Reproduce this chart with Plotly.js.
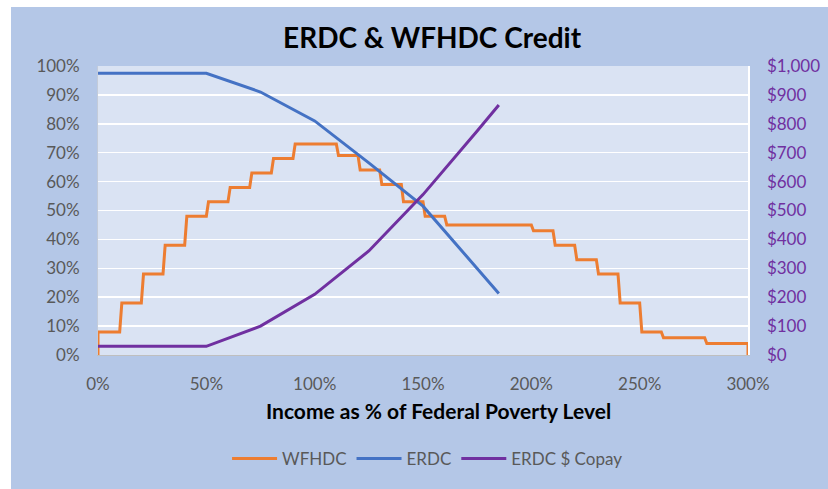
<!DOCTYPE html>
<html>
<head>
<meta charset="utf-8">
<script src="https://cdn.plot.ly/plotly-3.0.1.min.js"></script>
<style>
  html, body { margin: 0; padding: 0; background: #ffffff; }
  #chart { position: absolute; left: 11px; top: 7px; width: 817px; height: 482px; }
</style>
</head>
<body>
<div id="chart"></div>
<script>
// Income as % of Federal Poverty Level
const wfhdcX = [0,0,10,11,20,21,30,31,40,41,50,51,60,61,70,71,80,81,90,91,110,111,120,121,130,131,140,141,150,151,160,161,200,201,210,211,220,221,230,231,240,241,250,251,260,261,280,281,300,300];
// WFHDC credit (%)
const wfhdcY = [0,8,8,18,18,28,28,38,38,48,48,53,53,58,58,63,63,68,68,73,73,69,69,64,64,59,59,53,53,48,48,45,45,43,43,38,38,33,33,28,28,18,18,8,8,6,6,4,4,0];

const erdcX = [0,50,75,100,125,150,185];
const erdcY = [97.5,97.5,91,81,66.5,51.5,21.3];

const copayX = [0,50,75,100,125,150,175,185];
const copayY = [30,30,100,210,360,555,775,865];

const leftTicks = [0,10,20,30,40,50,60,70,80,90,100];
const leftTickText = ['0%','10%','20%','30%','40%','50%','60%','70%','80%','90%','100%'];
const rightTicks = [0,100,200,300,400,500,600,700,800,900,1000];
const rightTickText = ['$0','$100','$200','$300','$400','$500','$600','$700','$800','$900','$1,000'];
const xTicks = [0,50,100,150,200,250,300];
const xTickText = ['0%','50%','100%','150%','200%','250%','300%'];

const FONT = 'Lato, "Open Sans", sans-serif';
const GREY = '#595959';

const traces = [
  { x: wfhdcX, y: wfhdcY, name: 'WFHDC', type: 'scatter', mode: 'lines',
    line: { color: '#ed7d31', width: 3 }, yaxis: 'y' },
  { x: erdcX, y: erdcY, name: 'ERDC', type: 'scatter', mode: 'lines',
    line: { color: '#4472c4', width: 3 }, yaxis: 'y' },
  { x: copayX, y: copayY, name: 'ERDC $ Copay', type: 'scatter', mode: 'lines',
    line: { color: '#7030a0', width: 3 }, yaxis: 'y2' }
];

const layout = {
  width: 817, height: 482,
  margin: { l: 87, r: 80, t: 59, b: 134, pad: 0 },
  paper_bgcolor: '#b4c7e7',
  plot_bgcolor: '#dae3f3',
  font: { family: FONT, color: GREY, size: 17 },
  showlegend: true,
  title: { text: '<b>ERDC & WFHDC Credit</b>', font: { family: FONT, size: 28, color: '#000000' },
           x: 0.514, xanchor: 'center', xref: 'paper', y: 0.935, yanchor: 'middle' },
  xaxis: {
    range: [0, 300], tickvals: xTicks, ticktext: xTickText,
    showgrid: false, zeroline: false, showline: true, linecolor: '#bfbfbf', linewidth: 1,
    ticks: '', ticklabelstandoff: 14, tickfont: { family: FONT, size: 17, color: GREY }
  },
  yaxis: {
    range: [0, 100], tickvals: leftTicks, ticktext: leftTickText,
    showgrid: true, gridcolor: '#ffffff', gridwidth: 1.5, zeroline: false,
    showline: true, linecolor: '#c3cbd9', linewidth: 1,
    ticks: '', ticklabelstandoff: 14, tickfont: { family: FONT, size: 17, color: GREY }
  },
  yaxis2: {
    range: [0, 1000], tickvals: rightTicks, ticktext: rightTickText,
    overlaying: 'y', side: 'right', showgrid: false, zeroline: false,
    showline: true, linecolor: '#ffffff', linewidth: 1.5,
    ticks: '', ticklabelstandoff: 14, tickfont: { family: FONT, size: 17, color: '#7030a0' }
  },
  legend: {
    orientation: 'h', x: 0.507, xanchor: 'center', y: -0.36, yanchor: 'middle',
    itemwidth: 45, tracegroupgap: 0,
    font: { family: FONT, size: 17, color: GREY }, bgcolor: 'rgba(0,0,0,0)'
  },
  annotations: [
    { text: '<b>Income as % of Federal Poverty Level</b>', xref: 'paper', yref: 'paper',
      x: (438 - 98) / 650, y: (355 - 410) / 289, xanchor: 'center', yanchor: 'middle',
      showarrow: false, font: { family: FONT, size: 21, color: '#000000' } }
  ]
};

Plotly.newPlot('chart', traces, layout, { displayModeBar: false, staticPlot: true });
</script>
</body>
</html>
